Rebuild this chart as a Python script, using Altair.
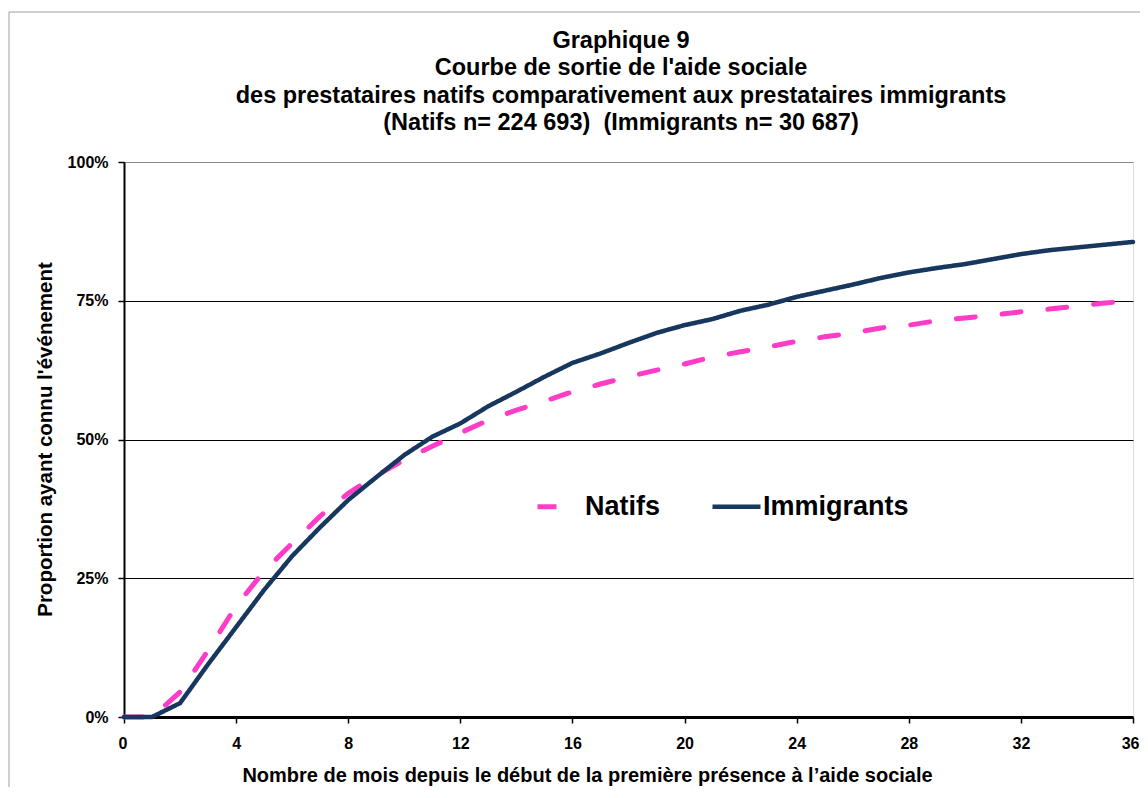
import altair as alt
import pandas as pd

months = list(range(0, 37))
natifs = [0, 0, 4.5, 12.0, 20.0, 26.3, 31.3, 36.2, 40.3, 43.5, 46.3, 48.8, 51.2,
          53.5, 55.3, 56.9, 58.6, 60.0, 61.3, 62.5, 63.6, 64.9, 65.8, 66.7, 67.7,
          68.5, 69.2, 70.1, 70.6, 71.4, 71.9, 72.4, 73.0, 73.5, 74.0, 74.6, 75.0]
immigrants = [0, 0, 2.5, 9.5, 16.2, 22.9, 29.0, 34.2, 39.1, 43.2, 47.2, 50.5, 52.9,
              56.0, 58.6, 61.3, 63.8, 65.5, 67.4, 69.2, 70.6, 71.7, 73.2, 74.3, 75.7,
              76.8, 77.9, 79.1, 80.1, 80.9, 81.6, 82.5, 83.4, 84.1, 84.6, 85.1, 85.6]

series = ["Natifs", "Immigrants"]
colors = ["#FF3CC8", "#17375E"]
dashes = [[19, 27], [1, 0]]

title_lines = ["Graphique 9",
               "Courbe de sortie de l'aide sociale",
               "des prestataires natifs comparativement aux prestataires immigrants",
               "(Natifs n= 224 693)\u00a0 (Immigrants n= 30 687)"]

rows = []
for m, v in zip(months, natifs):
    rows.append({"mois": m, "valeur": v / 100, "serie": "Natifs"})
for m, v in zip(months, immigrants):
    rows.append({"mois": m, "valeur": v / 100, "serie": "Immigrants"})
df = pd.DataFrame(rows)

FONT = "Liberation Sans"

frame = alt.Chart(pd.DataFrame({"k": [0]})).mark_rect(
    fill="transparent", stroke="#A0A0A0", strokeWidth=1
).encode(
    x=alt.value(-115), x2=alt.value(1200), y=alt.value(-150), y2=alt.value(800)
)

title_layers = []
for i, t in enumerate(title_lines):
    title_layers.append(
        alt.Chart(pd.DataFrame({"t": [t]})).mark_text(
            font=FONT, fontSize=23.5, fontWeight="bold", color="black",
            align="center", baseline="middle"
        ).encode(x=alt.value(497), y=alt.value(-121 + i * 27.3), text="t:N")
    )

lines = alt.Chart(df).mark_line(strokeCap="round", strokeJoin="round").encode(
    x=alt.X("mois:Q",
            scale=alt.Scale(domain=[0, 36], nice=False),
            axis=alt.Axis(
                values=list(range(0, 37, 4)),
                title="Nombre de mois depuis le début de la première présence à l’aide sociale",
                titleFont=FONT, titleFontSize=20, titleFontWeight="bold", titleColor="black",
                titleX=463, titleY=58, titleBaseline="middle", titleAlign="center",
                labelFont=FONT, labelFontSize=16, labelFontWeight="bold", labelColor="black",
                labelPadding=12, tickSize=6, tickColor="black", tickWidth=1.5,
                domainColor="black", domainWidth=3, grid=False,
                labelFlush=True, labelFlushOffset=6,
            )),
    y=alt.Y("valeur:Q",
            scale=alt.Scale(domain=[0, 1], nice=False),
            axis=alt.Axis(
                values=[0, 0.25, 0.5, 0.75, 1.0], format=".0%",
                title="Proportion ayant connu l'événement",
                titleFont=FONT, titleFontSize=20.5, titleFontWeight="bold", titleColor="black",
                titleX=-79, titleY=277, titleBaseline="middle", titleAlign="center", titleAngle=270,
                labelFont=FONT, labelFontSize=16, labelFontWeight="bold", labelColor="black",
                labelPadding=10, tickSize=6, tickColor="black", tickWidth=1.5,
                domainColor="black", domainWidth=2,
                grid=True,
                gridColor=alt.condition("datum.value >= 1", alt.value("#888888"), alt.value("black")),
                gridWidth=1.2,
            )),
    color=alt.Color("serie:N",
                    scale=alt.Scale(domain=series, range=colors),
                    legend=alt.Legend(
                        title=None, orient="none", legendX=408, legendY=318,
                        direction="horizontal", symbolType="stroke", symbolSize=2304,
                        symbolStrokeWidth=5, symbolDashOffset=-3,
                        labelFont=FONT, labelFontSize=27,
                        labelFontWeight="bold", labelColor="black", labelOffset=0,
                        columnPadding=42, padding=0,
                    )),
    strokeDash=alt.StrokeDash("serie:N", scale=alt.Scale(domain=series, range=dashes),
                              legend=None),
    strokeWidth=alt.StrokeWidth("serie:N", scale=alt.Scale(domain=series, range=[5, 4.5]),
                                legend=None),
)

chart = alt.layer(frame, *title_layers, lines).properties(
    width=1009, height=555,
    autosize=alt.AutoSizeParams(type="none"),
    padding={"left": 116, "top": 154, "right": 7, "bottom": 70},
).configure_view(stroke="#888888", strokeWidth=1).configure(background="white")

chart.save("out.html", embed_options={"renderer": "svg", "actions": False})
